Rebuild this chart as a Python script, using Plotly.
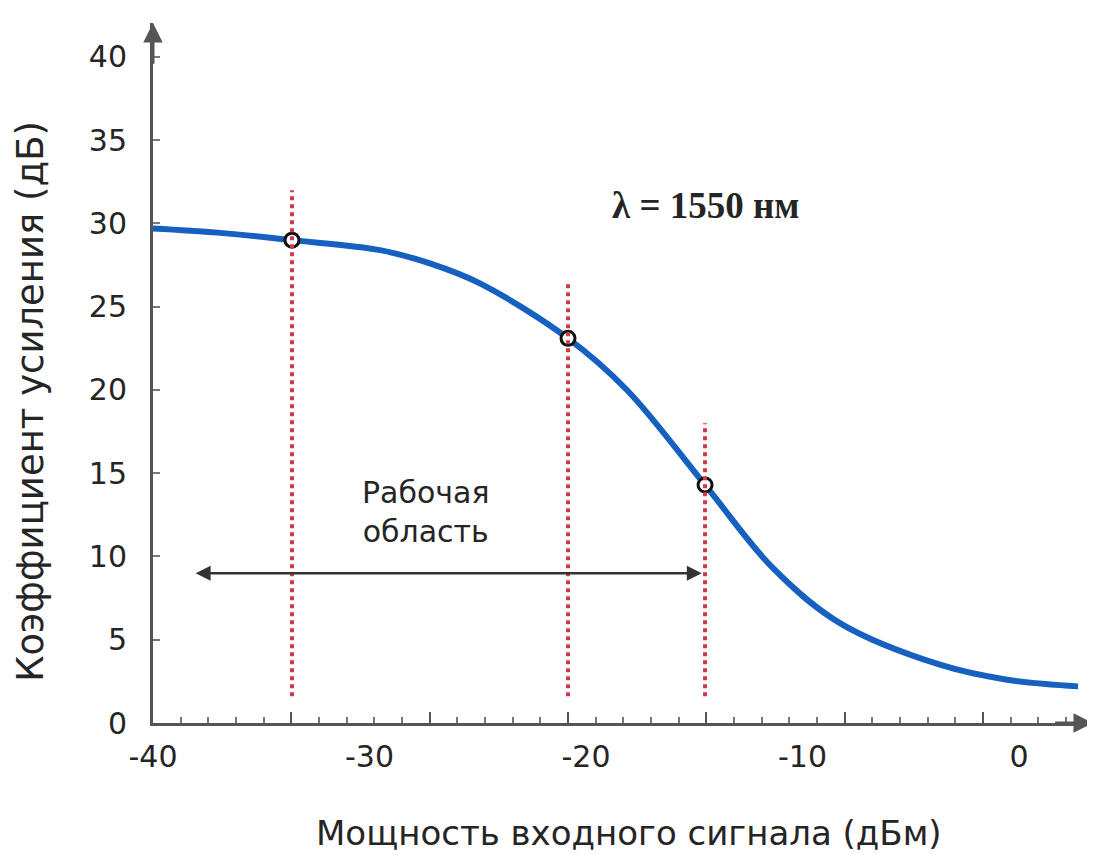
import plotly.graph_objects as go

# ---- data ----
x_curve = [-40, -37, -33.58, -29.51, -27.21, -24.90, -20.83, -18.11, -14.50,
           -11.36, -8.27, -3.65, -0.55, 2.73]
y_curve = [29.7, 29.45, 29.0, 28.4, 27.6, 26.4, 23.1, 20.0, 14.3,
           9.3, 6.0, 3.5, 2.6, 2.2]

mark_x = [-33.58, -20.83, -14.50]
mark_y = [29.0, 23.1, 14.3]

vline_top = [32.0, 26.5, 18.0]
vline_bottom = 1.6

x_tick_vals = [-40, -30, -20, -10, 0]
x_tick_text = ["-40", "-30", "-20", "-10", "0"]
y_tick_vals = [0, 5, 10, 15, 20, 25, 30, 35, 40]

region_from, region_to, region_level = -38.1, -14.65, 9.0

x_title = "Мощность входного сигнала (дБм)"
y_title = "Коэффициент усиления (дБ)"
region_text = "Рабочая<br>область"
lambda_text = "λ = 1550 нм"

X_RANGE = [-40, 3.42]
Y_RANGE = [0, 42.04]

AX = "#555555"
TXT = "#252525"
FONT = "DejaVu Sans, Liberation Sans, sans-serif"

fig = go.Figure()

# red dotted vertical guide lines (on the overlaid tick axis, same range)
for xv, top in zip(mark_x, vline_top):
    fig.add_trace(go.Scatter(x=[xv, xv], y=[vline_bottom, top], mode="lines",
                             line=dict(color="#d23a4c", width=4, dash="dot"),
                             xaxis="x2", showlegend=False, hoverinfo="skip"))

# gain curve
fig.add_trace(go.Scatter(x=x_curve, y=y_curve, mode="lines",
                         line=dict(color="#1560c0", width=6, shape="spline", smoothing=1.0),
                         showlegend=False))

# marked points
fig.add_trace(go.Scatter(x=mark_x, y=mark_y, mode="markers",
                         marker=dict(symbol="circle", size=14, color="white",
                                     line=dict(color="#111111", width=3)),
                         showlegend=False))

fig.update_layout(
    width=1095, height=855,
    margin=dict(l=145, r=10, t=15, b=140),
    paper_bgcolor="white", plot_bgcolor="white",
    font=dict(family=FONT, color=TXT),
    xaxis=dict(range=X_RANGE, tickmode="array", tickvals=x_tick_vals,
               ticktext=x_tick_text, automargin=False,
               ticks="", showgrid=False, zeroline=False,
               showline=True, linecolor=AX, linewidth=3,
               tickfont=dict(size=30, color=TXT, family=FONT),
               ticklabelstandoff=5),
    xaxis2=dict(range=X_RANGE, overlaying="x", anchor="y", side="bottom",
                tickmode="linear", tick0=-40, dtick=6.39, automargin=False,
                ticks="inside", ticklen=11, tickwidth=2, tickcolor=AX,
                showticklabels=False, showgrid=False, zeroline=False, showline=False,
                minor=dict(tick0=-40, dtick=1.278, ticks="inside", ticklen=6,
                           tickwidth=2, tickcolor="#777777", showgrid=False)),
    yaxis=dict(range=Y_RANGE, tickmode="array", tickvals=y_tick_vals,
               automargin=False,
               ticks="inside", ticklen=7, tickwidth=2, tickcolor="#777777",
               showgrid=False, zeroline=False,
               showline=True, linecolor=AX, linewidth=3,
               tickfont=dict(size=30, color=TXT, family=FONT),
               ticklabelstandoff=17),
)

# axis arrowheads
fig.add_annotation(x=-40, y=Y_RANGE[1], ax=-40, ay=39.5, xref="x", yref="y",
                   axref="x", ayref="y", text="", showarrow=True, arrowhead=2,
                   arrowsize=1.3, arrowwidth=3, arrowcolor=AX, standoff=0)
fig.add_annotation(x=X_RANGE[1], y=0, ax=1.6, ay=0, xref="x", yref="y",
                   axref="x", ayref="y", text="", showarrow=True, arrowhead=2,
                   arrowsize=1.3, arrowwidth=3, arrowcolor=AX, standoff=0)

# working region double arrow
fig.add_annotation(x=region_to, y=region_level, ax=region_from, ay=region_level,
                   xref="x", yref="y", axref="x", ayref="y", text="",
                   showarrow=True, arrowhead=2, arrowside="end+start",
                   arrowsize=1.2, arrowwidth=2.5, arrowcolor="#333333",
                   standoff=0, startstandoff=0)
fig.add_annotation(x=-27.39, y=12.67, xref="x", yref="y", text=region_text,
                   xanchor="center", yanchor="middle",
                   showarrow=False, font=dict(size=30, color=TXT, family=FONT))

fig.add_annotation(x=-14.46, y=31.1, xref="x", yref="y", text="<b>" + lambda_text + "</b>",
                   xanchor="center", yanchor="middle", showarrow=False,
                   font=dict(size=37, color=TXT, family="Liberation Serif, Times New Roman, serif"))

# axis titles
fig.add_annotation(x=0.506, y=-0.157, xref="paper", yref="paper", text=x_title,
                   xanchor="center", yanchor="middle",
                   showarrow=False, font=dict(size=34, color=TXT, family=FONT))
fig.add_annotation(x=-0.131, y=0.46, xref="paper", yref="paper", text=y_title,
                   xanchor="center", yanchor="middle",
                   textangle=-90, showarrow=False,
                   font=dict(size=37, color=TXT, family=FONT))

fig.write_html("out.html")
